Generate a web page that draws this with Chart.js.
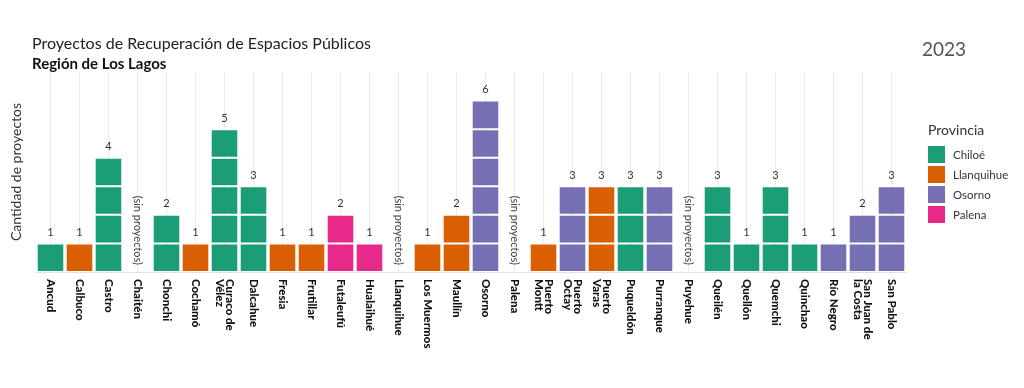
<!DOCTYPE html>
<html>
<head>
<meta charset="utf-8">
<script src="https://cdn.jsdelivr.net/npm/chart.js@4"></script>
<style>
  body { margin: 0; background: #fff; font-family: Lato, sans-serif; }
  #wrap { position: relative; width: 1024px; height: 388px; }
  #titulo { position: absolute; left: 32px; top: 33px; font-size: 16px; color: #222; }
  #subtitulo { position: absolute; left: 32px; top: 54px; font-size: 15px; font-weight: bold; color: #111; }
  #anio { position: absolute; left: 922px; top: 37px; font-size: 19px; font-weight: 400; color: #555; }
  #leyenda { position: absolute; left: 928px; top: 121px; font-size: 11.5px; color: #333; }
  #leyenda .tit { font-size: 14px; margin-bottom: 6px; }
  #leyenda .item { display: flex; align-items: center; height: 20px; }
  #leyenda .sw { width: 17px; height: 17px; margin-right: 8px; }
</style>
</head>
<body>
<div id="wrap">
  <canvas id="myChart" width="1024" height="388"></canvas>
  <div id="titulo">Proyectos de Recuperación de Espacios Públicos</div>
  <div id="subtitulo">Región de Los Lagos</div>
  <div id="anio">2023</div>
  <div id="leyenda"></div>
</div>
<script>
// Datos
const comunas = ['Ancud', 'Calbuco', 'Castro', 'Chaitén', 'Chonchi', 'Cochamó', ['Curaco de', 'Vélez'], 'Dalcahue',
    'Fresia', 'Frutillar', 'Futaleufú', 'Hualaihué', 'Llanquihue', 'Los Muermos', 'Maullín', 'Osorno', 'Palena',
    ['Puerto', 'Montt'], ['Puerto', 'Octay'], ['Puerto', 'Varas'], 'Puqueldón', 'Purranque', 'Puyehue', 'Queilén',
    'Quellón', 'Quemchi', 'Quinchao', 'Río Negro', ['San Juan de', 'la Costa'], 'San Pablo'];
const provincia = ['Chiloé', 'Llanquihue', 'Chiloé', 'Palena', 'Chiloé', 'Llanquihue', 'Chiloé', 'Chiloé',
    'Llanquihue', 'Llanquihue', 'Palena', 'Palena', 'Llanquihue', 'Llanquihue', 'Llanquihue', 'Osorno', 'Palena',
    'Llanquihue', 'Osorno', 'Llanquihue', 'Chiloé', 'Osorno', 'Osorno', 'Chiloé',
    'Chiloé', 'Chiloé', 'Chiloé', 'Osorno', 'Osorno', 'Osorno'];
const proyectos = [1, 1, 4, 0, 2, 1, 5, 3, 1, 1, 2, 1, 0, 1, 2, 6, 0, 1, 3, 3, 3, 3, 0, 3, 1, 3, 1, 1, 2, 3];

const provincias = ['Chiloé', 'Llanquihue', 'Osorno', 'Palena'];
const colores = ['#1b9e77', '#d95f02', '#7570b3', '#e7298a'];

const colorDe = p => colores[provincias.indexOf(p)];

// leyenda
const leyenda = document.getElementById('leyenda');
leyenda.innerHTML = '<div class="tit">Provincia</div>' + provincias.map((p, i) =>
    `<div class="item"><div class="sw" style="background:${colores[i]}"></div>${p}</div>`).join('');

// un dataset por "nivel" para dibujar cada proyecto como un bloque
const maxProy = Math.max(...proyectos);
const datasets = [];
for (let k = 1; k <= maxProy; k++) {
    datasets.push({
        data: proyectos.map(v => v >= k ? 1 : null),
        backgroundColor: provincia.map(colorDe),
        borderColor: '#fff',
        borderWidth: { top: 1, bottom: 1, left: 0, right: 0 },
        borderSkipped: false,
        barPercentage: 0.9,
        categoryPercentage: 1
    });
}

const etiquetas = {
    id: 'etiquetas',
    afterDatasetsDraw(chart) {
        const ctx = chart.ctx;
        const x = chart.scales.x, y = chart.scales.y;
        const base = y.getPixelForValue(0);
        ctx.save();
        proyectos.forEach((v, i) => {
            const px = x.getPixelForValue(i);
            if (v > 0) {
                ctx.font = '11px Lato';
                ctx.fillStyle = '#333';
                ctx.textAlign = 'center';
                ctx.textBaseline = 'middle';
                ctx.fillText(v, px, y.getPixelForValue(v) - 11);
            } else {
                ctx.save();
                ctx.translate(px, base - 7);
                ctx.rotate(Math.PI / 2);
                ctx.font = '11px Lato';
                ctx.fillStyle = '#444';
                ctx.textAlign = 'right';
                ctx.textBaseline = 'middle';
                ctx.fillText('(sin proyectos)', 0, 0);
                ctx.restore();
            }
            // etiqueta del eje x, girada hacia abajo
            const lineas = [].concat(comunas[i]);
            const lh = 10;
            ctx.save();
            ctx.translate(px, base + 7);
            ctx.rotate(Math.PI / 2);
            ctx.font = '900 11.5px Lato';
            ctx.fillStyle = '#111';
            ctx.textAlign = 'left';
            ctx.textBaseline = 'middle';
            lineas.forEach((l, j) => {
                ctx.fillText(l, 0, (j - (lineas.length - 1) / 2) * lh);
            });
            ctx.restore();
        });
        ctx.restore();
    }
};

const ctx = document.getElementById('myChart').getContext('2d');
const myChart = new Chart(ctx, {
    type: 'bar',
    data: { labels: comunas, datasets: datasets },
    plugins: [etiquetas],
    options: {
        responsive: false,
        animation: false,
        layout: { padding: { left: 8, right: 118, top: 72, bottom: 0 } },
        plugins: { legend: { display: false }, tooltip: { enabled: false } },
        scales: {
            x: {
                stacked: true,
                ticks: { display: false },
                grid: { display: true, offset: false, color: '#ebebeb', tickLength: 0 },
                border: { display: true, color: '#e0e0e0' },
                afterFit: s => { s.height = 116; }
            },
            y: {
                stacked: true,
                min: 0,
                max: 7,
                ticks: { display: false },
                grid: { display: false },
                border: { display: false },
                title: { display: true, text: 'Cantidad de proyectos', color: '#333',
                    font: { family: 'Lato', size: 14 }, padding: 0 },
                afterFit: s => { s.width = 28; }
            }
        }
    }
});
</script>
</body>
</html>
